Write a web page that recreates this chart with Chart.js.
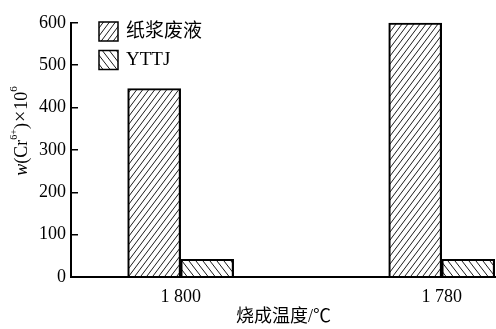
<!DOCTYPE html>
<html>
<head>
<meta charset="utf-8">
<script src="https://cdn.jsdelivr.net/npm/chart.js@4.4.1/dist/chart.umd.min.js"></script>
<style>
  html, body { margin: 0; padding: 0; background: #fff; }
  #wrap { width: 496px; height: 329px; }
</style>
</head>
<body>
<div id="wrap"><canvas id="myChart"></canvas></div>
<script>
const categories = ["1 800", "1 780"];
const seriesNames = ["纸浆废液", "YTTJ"];
const paperValues = [445, 600];
const yttjValues = [42, 42];
const yTicks = [0, 100, 200, 300, 400, 500, 600];

const serif = "'Liberation Serif', 'Noto Sans CJK SC', serif";

// hatch fill tile w x h; dir 1 => "/", dir -1 => "\"
const makeHatch = (dir, w, h) => {
    const c = document.createElement("canvas");
    c.width = w;
    c.height = h;
    const g = c.getContext("2d");
    g.strokeStyle = "#000";
    g.lineWidth = 0.9;
    g.beginPath();
    for (let k = -1; k <= 1; k++) {
        const x0 = k * w;
        if (dir > 0) {
            g.moveTo(x0 - w * 0.2, h * 1.2);
            g.lineTo(x0 + w * 1.2, -h * 0.2);
        } else {
            g.moveTo(x0 - w * 0.2, -h * 0.2);
            g.lineTo(x0 + w * 1.2, h * 1.2);
        }
    }
    g.stroke();
    return g.createPattern(c, "repeat");
};

const hatchPaper = makeHatch(1, 6, 8);
const hatchYttj = makeHatch(-1, 7, 9);

// y axis title with italic w and superscripts
const yTitlePlugin = {
    id: "yTitle",
    afterDraw(chart) {
        const c = chart.ctx;
        const parts = [
            { t: "w", f: "italic 18px " + serif, dy: 0, gap: 0 },
            { t: "(Cr", f: "18px " + serif, dy: 0, gap: 0 },
            { t: "6+", f: "10px " + serif, dy: -8, gap: 0 },
            { t: ")", f: "18px " + serif, dy: 0, gap: 1 },
            { t: "\u00d7", f: "20px " + serif, dy: 0, gap: 1 },
            { t: "10", f: "18px " + serif, dy: 0, gap: 0 },
            { t: "6", f: "11px " + serif, dy: -8, gap: 0 },
        ];
        let total = 0;
        parts.forEach((p) => {
            c.font = p.f;
            p.w = c.measureText(p.t).width + p.gap;
            total += p.w;
        });
        c.save();
        c.translate(22, 131);
        c.rotate(-Math.PI / 2);
        c.fillStyle = "#000";
        c.textBaseline = "middle";
        let x = -total / 2;
        parts.forEach((p) => {
            c.font = p.f;
            c.fillText(p.t, x, p.dy);
            x += p.w;
        });
        c.restore();
    },
};

// legend in the top-left of the plot
const boxLegend = {
    id: "boxLegend",
    afterDraw(chart) {
        const c = chart.ctx;
        chart.data.datasets.forEach((ds, i) => {
            const x = 99;
            const y = 22 + i * 28.5;
            c.save();
            c.fillStyle = ds.backgroundColor;
            c.fillRect(x, y, 19, 19);
            c.lineWidth = 1.5;
            c.strokeStyle = "#000";
            c.strokeRect(x, y, 19, 19);
            c.fillStyle = "#000";
            c.font = "19px " + serif;
            c.textBaseline = "middle";
            c.fillText(ds.label, 126, y + 10);
            c.restore();
        });
    },
};

const ctx = document.getElementById("myChart");

new Chart(ctx, {
    type: "bar",
    data: {
        datasets: [
            {
                label: seriesNames[0],
                data: paperValues.map((v, i) => ({ x: i, y: v })),
                backgroundColor: hatchPaper,
                borderColor: "#000",
                borderWidth: 1.5,
            },
            {
                label: seriesNames[1],
                data: yttjValues.map((v, i) => ({ x: i, y: v })),
                backgroundColor: hatchYttj,
                borderColor: "#000",
                borderWidth: 1.5,
            },
        ],
    },
    options: {
        responsive: true,
        maintainAspectRatio: false,
        animation: false,
        barThickness: 53,
        layout: { padding: { top: 16, right: 0, bottom: 0, left: 0 } },
        plugins: {
            legend: { display: false },
            tooltip: { enabled: false },
        },
        scales: {
            x: {
                type: "linear",
                offset: false,
                min: -0.42,
                max: 1.208,
                afterBuildTicks: (axis) => {
                    axis.ticks = categories.map((c, i) => ({ value: i }));
                },
                afterFit: (axis) => {
                    axis.height = 52;
                },
                grid: { display: false, drawTicks: false, offset: false },
                border: { display: true, color: "#000", width: 2 },
                ticks: {
                    color: "#000",
                    padding: 9,
                    font: { family: serif, size: 18 },
                    callback: (v) => categories[v],
                },
                title: {
                    display: true,
                    text: "烧成温度/℃",
                    color: "#000",
                    font: { family: serif, size: 18 },
                    padding: { top: 0, bottom: 1 },
                },
            },
            y: {
                min: 0,
                max: 600,
                afterBuildTicks: (axis) => {
                    axis.ticks = yTicks.map((v) => ({ value: v }));
                },
                afterFit: (axis) => {
                    axis.width = 71;
                },
                grid: {
                    drawOnChartArea: false,
                    drawTicks: true,
                    tickLength: -7,
                    color: "#000",
                    lineWidth: 1.5,
                },
                border: { display: true, color: "#000", width: 2 },
                ticks: {
                    color: "#000",
                    padding: 12,
                    font: { family: serif, size: 18 },
                },
            },
        },
    },
    plugins: [yTitlePlugin, boxLegend],
});
</script>
</body>
</html>
